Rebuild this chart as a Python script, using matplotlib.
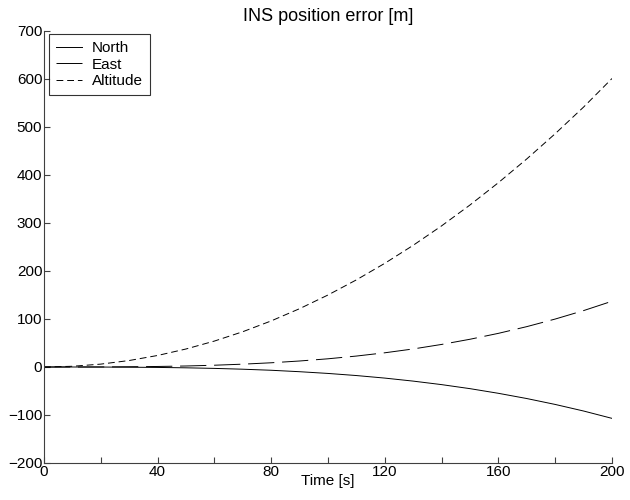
import numpy as np
import matplotlib
matplotlib.use("Agg")
import matplotlib.pyplot as plt
from matplotlib.ticker import MultipleLocator

plt.rcParams['font.family'] = ['Liberation Sans', 'DejaVu Sans']
plt.rcParams['font.size'] = 11

# time axis [s] and position errors [m]
time = [0, 10, 20, 30, 40, 50, 60, 70, 80, 90, 100,
        110, 120, 130, 140, 150, 160, 170, 180, 190, 200]
north = [0, 0, -0.1, -0.4, -0.9, -1.7, -2.9, -4.6, -6.8, -9.8, -13.4,
         -17.8, -23.1, -29.4, -36.7, -45.1, -54.8, -65.7, -78.0, -91.7, -107]
east = [0, 0, 0.1, 0.5, 1.1, 2.1, 3.7, 5.9, 8.8, 12.5, 17.1,
        22.8, 29.6, 37.6, 47.0, 57.8, 70.1, 84.1, 99.9, 117.5, 137]
altitude = [0, 1.5, 6, 13.5, 24, 37.5, 54, 73.5, 96, 121.5, 150,
            181.5, 216, 253.5, 294, 337.5, 384, 433.5, 486, 541.5, 601]

fig = plt.figure(figsize=(6.3, 5.0), dpi=100)
ax = fig.add_axes([0.0698, 0.074, 0.9016, 0.864])

ax.plot(time, north, color='black', lw=0.7, label='North')
ax.plot(time, east, color='black', lw=0.7, dashes=(27, 8), label='East')
ax.plot(time, altitude, color='black', lw=0.7, dashes=(7, 4), label='Altitude')

ax.set_xlim(0, 200)
ax.set_ylim(-200, 700)
ax.xaxis.set_major_locator(MultipleLocator(40))
ax.xaxis.set_minor_locator(MultipleLocator(20))
ax.yaxis.set_major_locator(MultipleLocator(100))

ax.spines['top'].set_visible(False)
ax.spines['right'].set_visible(False)
for s in ['left', 'bottom']:
    ax.spines[s].set_linewidth(0.8)
    ax.spines[s].set_color('#404040')
ax.tick_params(which='both', direction='in', length=4, width=0.8, color='#404040', pad=1.2)

ax.set_title('INS position error [m]', fontsize=13, pad=7)
ax.set_xlabel('Time [s]', labelpad=-3)

leg = ax.legend(loc='upper left', bbox_to_anchor=(0.0088, 0.993), frameon=True, fancybox=False,
                handlelength=1.7, handletextpad=0.65, borderpad=0.45, labelspacing=0.18,
                borderaxespad=0)
leg.get_frame().set_edgecolor('black')
leg.get_frame().set_linewidth(0.8)

fig.savefig('out.png', dpi=100)
